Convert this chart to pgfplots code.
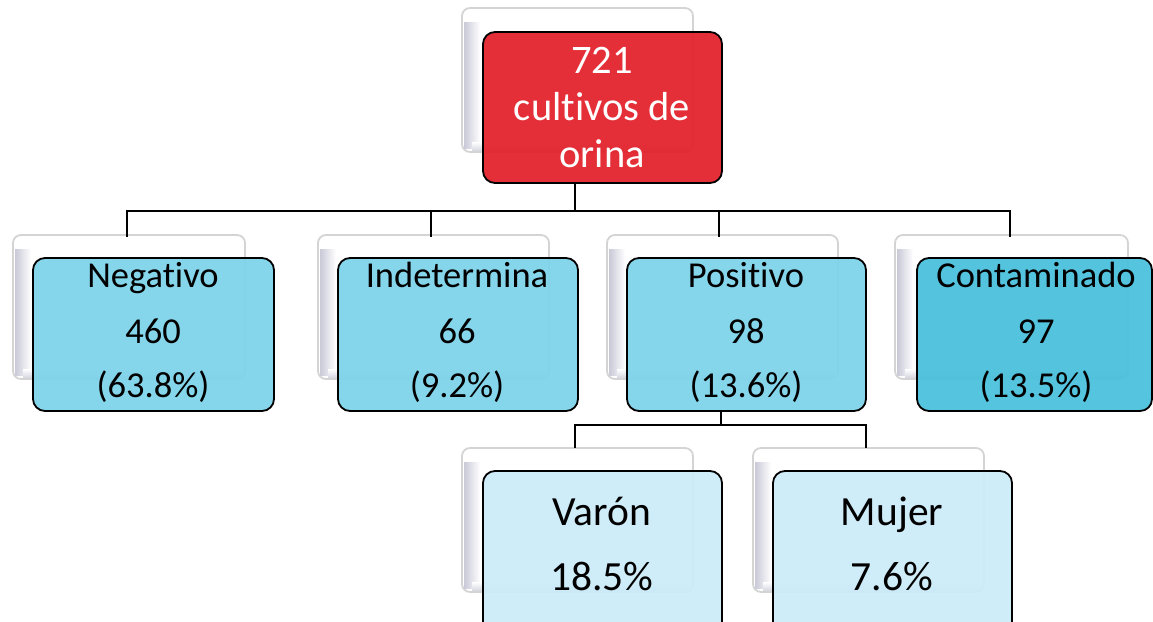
\documentclass[border=0pt]{standalone}
\usepackage{pgfplots}
\pgfplotsset{compat=1.18}
\usepackage{fontspec}
\setmainfont{Carlito}[RawFeature={-liga,-clig,-calt,-dlig}]
\newcommand\ti{t\kern0pt i}
\definecolor{rojo}{HTML}{E3222C}
\definecolor{azul}{HTML}{7ED3EA}
\definecolor{azulc}{HTML}{4AC0DC}
\definecolor{azull}{HTML}{CCEBF9}
\definecolor{sombra}{HTML}{C9C9D8}
\newcommand\shbox[4]{%
  \fill[white,rounded corners=8pt] (axis cs:#1,#2) rectangle (axis cs:#3,#4);
  \shade[left color=sombra,right color=white] (axis cs:#1+2,#2+14) rectangle (axis cs:#1+18,#4-4);
  \shade[top color=white,bottom color=sombra!70] (axis cs:#1+10,#4-10) rectangle (axis cs:#3-4,#4-2);
  \draw[black!17,line width=1.8pt,rounded corners=8pt] (axis cs:#1,#2) rectangle (axis cs:#3,#4);
}
\newcommand\mainbox[5]{%
  \draw[fill=#5,fill opacity=0.94,draw opacity=1,line width=1.8pt,rounded corners=12pt] (axis cs:#1,#2) rectangle (axis cs:#3,#4);
}
\begin{document}
\begin{tikzpicture}
\useasboundingbox (0,0) rectangle (1153pt,621pt);
\begin{axis}[at={(0,0)},anchor=south west,x=1pt,y=1pt,xmin=0,xmax=1153,ymin=0,ymax=621,y dir=reverse,
  axis lines=none,scale only axis,clip=true,ticks=none]
% shadow boxes
\shbox{462}{8}{693}{152}
\shbox{13}{235}{245}{379}
\shbox{318}{235}{549}{379}
\shbox{607}{235}{838}{379}
\shbox{895}{235}{1128}{379}
\shbox{462}{448}{693}{592}
\shbox{753}{448}{984}{592}
% connectors
\draw[line width=2pt] (axis cs:575,183) -- (axis cs:575,211);
\draw[line width=2pt] (axis cs:127,237) -- (axis cs:127,211) -- (axis cs:1010,211) -- (axis cs:1010,237);
\draw[line width=2pt] (axis cs:431,211) -- (axis cs:431,237);
\draw[line width=2pt] (axis cs:719,211) -- (axis cs:719,237);
\draw[line width=2pt] (axis cs:721,411) -- (axis cs:721,425);
\draw[line width=2pt] (axis cs:575,448) -- (axis cs:575,425) -- (axis cs:866,425) -- (axis cs:866,448);
% main boxes
\mainbox{483}{32}{722}{183}{rojo}
\mainbox{33}{258}{274}{411}{azul}
\mainbox{338}{258}{578}{411}{azul}
\mainbox{627}{258}{866}{411}{azul}
\mainbox{917}{258}{1152}{411}{azulc}
\mainbox{483}{471}{722}{640}{azull}
\mainbox{773}{471}{1012}{640}{azull}
% texts
\begin{scope}[every node/.style={anchor=base,inner sep=0pt,font=\fontsize{40.5}{48}\selectfont,text=white}]
\node at (axis cs:602,73) {721};
\node at (axis cs:602,120) {cul\ti vos de};
\node at (axis cs:602,167) {orina};
\end{scope}
\begin{scope}[every node/.style={anchor=base,inner sep=0pt,font=\fontsize{36.5}{43}\selectfont,text=black}]
\node at (axis cs:153,287) {Nega\ti vo};
\node at (axis cs:153,343) {460};
\node at (axis cs:153,397) {(63.8\%)};
\node at (axis cs:457,287) {Indetermina};
\node at (axis cs:457,343) {66};
\node at (axis cs:457,397) {(9.2\%)};
\node at (axis cs:746,287) {Posi\ti vo};
\node at (axis cs:746,343) {98};
\node at (axis cs:746,397) {(13.6\%)};
\node at (axis cs:1036,287) {Contaminado};
\node at (axis cs:1036,343) {97};
\node at (axis cs:1036,397) {(13.5\%)};
\end{scope}
\begin{scope}[every node/.style={anchor=base,inner sep=0pt,font=\fontsize{41.5}{49}\selectfont,text=black}]
\node at (axis cs:602,525) {Varón};
\node at (axis cs:602,590) {18.5\%};
\node at (axis cs:892,525) {Mujer};
\node at (axis cs:892,590) {7.6\%};
\end{scope}
\end{axis}
\end{tikzpicture}
\end{document}
